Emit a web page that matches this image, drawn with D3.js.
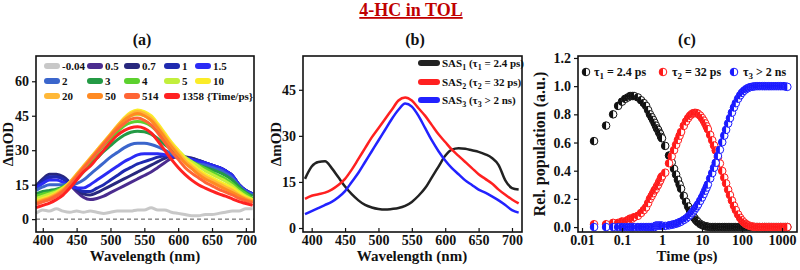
<!DOCTYPE html>
<html>
<head>
<meta charset="utf-8">
<script src="https://cdn.jsdelivr.net/npm/d3@7"></script>
<style>
  body { margin: 0; background: #fff; }
  text { font-family: "Liberation Serif", "Times New Roman", serif; font-weight: bold; fill: #111; }
</style>
</head>
<body>
<svg id="fig" width="800" height="270"></svg>
<script>
// wavelength grid (nm) shared by panels (a) and (b)
var wl = [390,400,410,420,430,440,450,460,470,480,490,500,510,520,530,540,550,560,570,580,590,600,610,620,630,640,650,660,670,680,690,700,710];

// (a) transient spectra, mOD, one array per delay
var delays = ["-0.04","0.5","0.7","1","1.5","2","3","4","5","10","20","50","514","1358"];
var tas_m004 = [2.5,4,3.5,4.5,3.5,3,3.5,3,3.5,3,2.5,3,3.5,3.5,3.5,4,4,5,4,4,3,2.5,2,1.5,1.5,2,2,2.5,3,3.5,3.5,4.5,4.5];
var tas_05   = [13,16,18,18.5,17.5,15,12,9.5,8.5,9,10,11.5,13,14.5,16,17.5,19,20.5,22.5,24.5,26.5,27,27,26.5,25.5,24.5,23.5,22.5,21,19,15,12.5,11];
var tas_07   = [14.5,17.5,19.5,19.5,18.5,16,13,11,10.5,11.5,13,14.5,16,17.5,19,20.5,22,23.5,25,26.5,27.5,27.5,27,26.5,25.5,24.5,23.5,22.5,21,19,15,12.5,11];
var tas_1    = [14,16.5,18.5,18.5,17.5,15.5,13.5,12,12,13.5,15,17,19,21,22.5,24,25,26,27,27.5,27.5,27,26.5,26,25.5,24.5,23.5,22.5,21,19,15,12.5,11];
var tas_15   = [13.5,15.5,17,17,16,14.5,13.5,13.5,15,17,19,21,23,25,26.5,28,28.5,28.5,28.5,28,27.5,27,26.5,26,25,24.5,23.5,22.5,21,19,15,12.5,11];
var tas_2    = [12.5,14,15,15,15,15,15.5,17,19.5,22,24.5,27,29,31,32.5,33,33,32.5,31.5,30,28.5,27,26,25,24,23.5,22.5,21.5,20,18,14.5,12,10.5];
var tas_3    = [11,12,12.5,13,14,15.5,17.5,20.5,23.5,26.5,29.5,32,34.5,36.5,37.8,38.3,38,37,35,32.5,30.5,28.5,26.5,25,23.5,22.5,21.5,20.5,19,17,14,11.5,10];
var tas_4    = [10,11,11.5,12.5,14,16,18.5,21.5,25,28.5,32,35,38,40.5,42,42.5,42,40.5,38,35,32,29.5,27,25,23.5,22,20.5,19,17.5,15.5,13,11,9];
var tas_5    = [9,10,11,12,13.5,16,19,22.5,26,29.5,33,36.5,40,43,45,45.5,45,43,40,36.5,33,30,27,25,23,21,19.5,18,16.5,14.5,12,10,8.5];
var tas_10   = [8,9,10,11.5,13.5,16,19.5,23,26.5,30,33.5,37,40.5,44,46.5,47.5,46.8,45,41.5,37.5,33.5,30,26.5,24,21.5,19.5,18,16.5,15,13.5,11.5,9.5,8.5];
var tas_20   = [7.5,8.5,9.5,11,13,16,19.5,23,26.5,30,33.5,37,40.5,43.5,45.8,46.8,46,44,40.5,36.5,32.5,29,25.5,23,20.5,18.5,17,15.5,14,12.5,10.5,9,8];
var tas_50   = [7,8,9,10.5,12.5,15.5,19,22.5,26,29.5,33,36.5,40,43,45,46,45,43,39.5,35.5,31.5,28,24.5,22,19.5,17.5,16,14.5,13,11.5,10,8.5,7.5];
var tas_514  = [6.5,7.5,8.5,10,12,15,18.5,22,25.5,29,32.5,36,39,41.5,43.5,44,43,41,37.5,33.5,29.5,26,22.5,20,18,16,14.5,13,11.8,10.5,9,8,7];
var tas_1358 = [5,6,7,8.5,10.5,13.5,17,20.5,23,26.5,30,33.5,36.5,38.5,39.8,40.2,39.5,37.5,34,30,26,22.5,19.5,17,15,13.5,12.2,11,10,8.8,7.6,6.8,6];
var tasColors = ["#c8c8c8","#4b2c8f","#28287e","#1f2ab0","#2b2bf5","#3b66cc","#249a45","#5cd12e","#c2ef3c","#fbec28","#ffb838","#ff8a22","#ff6535","#ff2222"];

// (b) species associated spectra, mOD
var sas1 = [16,20,21.5,21.7,19.5,16.5,13.5,11,9,7.5,6.7,6.2,6,6.2,6.5,7.2,8.5,10.5,13,16.5,20,23.5,25.5,26,25.8,25.3,24.8,24,22.8,20.5,15.5,13,12.5];
var sas2 = [9.5,10.5,11,11.5,12.5,14,16,19,22.5,26,29.5,32.5,35.5,38.5,41.5,42.5,41.5,39,36.5,33.5,30.5,28,25.5,23.5,21.5,19.5,17.5,16,14.5,12.5,10.8,9.3,8];
var sas3 = [4.5,5.5,6.5,7.5,8.5,10,12,15,18,21.5,25,28.5,32,35.5,38.5,40.5,39.5,36.5,32.5,28.5,25,22,19.5,17.5,15.5,14,12.5,11.5,10.3,9,7.5,5.8,5];

// (c) relative populations vs time (ps)
var times = [0.02,0.04,0.06,0.08,0.1,0.12,0.14,0.16,0.18,0.2,
  0.25,0.3,0.35,0.4,0.45,0.5,0.55,0.6,0.65,0.7,0.75,0.8,0.85,0.9,0.95,1.0,
  1.2,1.5,1.75,2,2.25,2.5,2.75,3,3.5,4,4.5,5,5.5,6,6.5,7,7.5,8,9,10,11,12,13,14,
  16,18,20,22,25,28,32,36,40,45,50,56,63,70,80,90,100,112,125,140,160,180,200,
  225,250,280,320,360,400,450,500,560,630,710,800,900,1000,1120,1250,1358];
var pop1 = [0.61,0.72,0.80,0.86,0.89,0.91,0.92,0.93,0.93,0.93,
  0.92,0.90,0.88,0.86,0.83,0.80,0.78,0.76,0.74,0.72,0.70,0.69,0.67,0.66,0.64,0.63,
  0.576,0.508,0.458,0.413,0.372,0.335,0.302,0.272,0.221,0.179,0.146,0.118,0.096,0.078,0.063,0.051,0.042,0.034,0.022,0.015,0.010,0.006,0.004,0.003,
  0,0,0,0,0,0,0,0,0,0,0,0,0,0,0,0,0,0,0,0,0,0,0,
  0,0,0,0,0,0,0,0,0,0,0,0,0,0,0,0,0];
var pop2 = [0.02,0.02,0.03,0.03,0.04,0.04,0.05,0.06,0.06,0.07,
  0.08,0.10,0.12,0.14,0.17,0.20,0.22,0.24,0.26,0.27,0.29,0.30,0.32,0.33,0.35,0.36,
  0.386,0.453,0.502,0.546,0.584,0.618,0.648,0.675,0.718,0.750,0.773,0.790,0.801,0.808,0.810,0.810,0.808,0.803,0.791,0.774,0.756,0.736,0.715,0.695,
  0.654,0.616,0.579,0.544,0.495,0.451,0.398,0.351,0.310,0.265,0.227,0.188,0.151,0.121,0.089,0.065,0.048,0.033,0.022,0.014,0.007,0.004,0.002,
  0,0,0,0,0,0,0,0,0,0,0,0,0,0,0,0,0];
var pop3 = [0,0,0,0,0,0,0,0,0,0,
  0,0,0,0,0,0,0,0,0,0.01,0.01,0.01,0.01,0.01,0.01,0.01,
  0.008,0.012,0.016,0.020,0.024,0.029,0.034,0.039,0.050,0.061,0.073,0.085,0.098,0.111,0.123,0.136,0.148,0.161,0.186,0.210,0.234,0.258,0.280,0.302,
  0.345,0.383,0.421,0.456,0.505,0.549,0.602,0.649,0.690,0.735,0.773,0.812,0.849,0.879,0.911,0.935,0.953,0.967,0.978,0.986,0.993,0.996,0.998,
  1,1,1,1,1,1,1,1,1,1,1,1,1,1,1,0.997,0.995];

var svg = d3.select("#fig");

// title + panel letters
svg.append("text").attr("x", 411).attr("y", 16).attr("text-anchor", "middle")
  .style("font-size", "18px").style("fill", "#c00000").style("text-decoration", "underline")
  .text("4-HC in TOL");
[["(a)", 142], ["(b)", 415], ["(c)", 687]].forEach(function(p) {
  svg.append("text").attr("x", p[1]).attr("y", 45).attr("text-anchor", "middle")
    .style("font-size", "16px").text(p[0]);
});

// common frame + axes helper
function frame(g, x, y, xTicks, yTicks, xFmt, yFmt) {
  var r = x.range(), b = y.range();
  var ax = g.append("g").attr("transform", "translate(0," + b[0] + ")")
    .call(d3.axisBottom(x).tickValues(xTicks).tickSize(-4).tickSizeOuter(0).tickPadding(3).tickFormat(xFmt));
  var ay = g.append("g").attr("transform", "translate(" + r[0] + ",0)")
    .call(d3.axisLeft(y).tickValues(yTicks).tickSize(4).tickSizeOuter(0).tickPadding(3).tickFormat(yFmt));
  [ax, ay].forEach(function(a) {
    a.select(".domain").remove();
    a.selectAll("line").style("stroke", "#111").style("stroke-width", 1.2);
    a.selectAll("text").style("font-size", "14px").style("font-family", null).style("fill", "#111");
  });
  g.append("rect").attr("x", r[0]).attr("y", b[1]).attr("width", r[1] - r[0]).attr("height", b[0] - b[1])
    .style("fill", "none").style("stroke", "#111").style("stroke-width", 1.6);
}

function ylabel(x, y, txt, fs) {
  svg.append("text").attr("transform", "translate(" + x + "," + y + ") rotate(-90)")
    .attr("text-anchor", "middle").style("font-size", fs + "px").text(txt);
}

function xlabel(x, y, txt) {
  svg.append("text").attr("x", x).attr("y", y).attr("text-anchor", "middle")
    .style("font-size", "15px").text(txt);
}

// ---------- panel (a) ----------
var xa = d3.scaleLinear().domain([390, 712]).range([36, 254]);
var ya = d3.scaleLinear().domain([-5.6, 71]).range([232, 56]);
var ga = svg.append("g");

ga.append("line").attr("x1", xa(390)).attr("x2", xa(712)).attr("y1", ya(0)).attr("y2", ya(0))
  .style("stroke", "#555").style("stroke-width", 1).style("stroke-dasharray", "4,3");

var tasAll = [tas_m004, tas_05, tas_07, tas_1, tas_15, tas_2, tas_3, tas_4, tas_5, tas_10, tas_20, tas_50, tas_514, tas_1358];
var lineA = d3.line().x(function(d, i) { return xa(wl[i]); }).y(function(d) { return ya(d); }).curve(d3.curveMonotoneX);

ga.selectAll("path.tas")
  .data(tasAll)
  .enter()
  .append("path")
    .attr("class", "tas")
    .attr("d", lineA)
    .style("fill", "none")
    .style("stroke", function(d, i) { return tasColors[i]; })
    .style("stroke-width", 3);

frame(ga, xa, ya, [400,450,500,550,600,650,700], [0,15,30,45,60], d3.format("d"), d3.format("d"));

// legend of delays, 5 per row
var colX = [44, 87, 124, 164, 195];
var rowY = [66, 81, 96];
var leg = ga.selectAll("g.lg").data(delays).enter().append("g").attr("class", "lg")
  .attr("transform", function(d, i) { return "translate(" + colX[i % 5] + "," + rowY[Math.floor(i / 5)] + ")"; });
leg.append("rect").attr("x", 0).attr("y", -3).attr("width", 16).attr("height", 6).attr("rx", 3)
  .style("fill", function(d, i) { return tasColors[i]; });
leg.append("text").attr("x", 18).attr("y", 4).style("font-size", "11px")
  .text(function(d) { return d == "1358" ? "1358 {Time/ps}" : d; });

ylabel(13, 144, "ΔmOD", 15);
xlabel(145, 261, "Wavelength (nm)");

// ---------- panel (b) ----------
var xb = d3.scaleLinear().domain([387, 715]).range([303, 522]);
var yb = d3.scaleLinear().domain([-1.3, 56]).range([232, 56]);
var gb = svg.append("g");
var sasColors = ["#222222", "#ff2020", "#2222ff"];
var lineB = d3.line().x(function(d, i) { return xb(wl[i]); }).y(function(d) { return yb(d); }).curve(d3.curveMonotoneX);

gb.selectAll("path.sas")
  .data([sas1, sas2, sas3])
  .enter()
  .append("path")
    .attr("d", lineB)
    .style("fill", "none")
    .style("stroke", function(d, i) { return sasColors[i]; })
    .style("stroke-width", 2.5);

frame(gb, xb, yb, [400,450,500,550,600,650,700], [0,15,30,45], d3.format("d"), d3.format("d"));

var sasLab = [["1", "1", "= 2.4 ps)"], ["2", "2", "= 32 ps)"], ["3", "3", "> 2 ns)"]];
var sasY = [63, 82, 100];
sasLab.forEach(function(s, i) {
  gb.append("line").attr("x1", 421).attr("x2", 437).attr("y1", sasY[i]).attr("y2", sasY[i])
    .style("stroke", sasColors[i]).style("stroke-width", 6).style("stroke-linecap", "round");
  var t = gb.append("text").attr("x", 442).attr("y", sasY[i] + 4).style("font-size", "11px");
  t.append("tspan").text("SAS");
  t.append("tspan").attr("dy", 3).style("font-size", "8px").text(s[0]);
  t.append("tspan").attr("dy", -3).text(" (τ");
  t.append("tspan").attr("dy", 3).style("font-size", "8px").text(s[1]);
  t.append("tspan").attr("dy", -3).text(" " + s[2]);
});

ylabel(281, 144, "ΔmOD", 15);
xlabel(412, 261, "Wavelength (nm)");

// ---------- panel (c) ----------
var xc = d3.scaleLog().domain([0.00794, 2371]).range([578, 797]);
var yc = d3.scaleLinear().domain([-0.035, 1.214]).range([232, 56]);
var gc = svg.append("g");
var popColors = ["#111111", "#ff1a1a", "#1a1aff"];
var rr = 3.8;

function halfDots(vals, col) {
  var pts = gc.append("g").selectAll("g").data(vals).enter().append("g")
    .attr("transform", function(d, i) { return "translate(" + xc(times[i]) + "," + yc(d) + ")"; });
  pts.append("circle").attr("r", rr).style("fill", "#fff").style("stroke", col).style("stroke-width", 1);
  pts.append("path").attr("d", "M0," + (-rr) + "A" + rr + "," + rr + " 0 0 0 0," + rr + "Z").style("fill", col);
}
halfDots(pop1, popColors[0]);
halfDots(pop2, popColors[1]);
halfDots(pop3, popColors[2]);

frame(gc, xc, yc, [0.01,0.1,1,10,100,1000], [0,0.2,0.4,0.6,0.8,1.0,1.2], function(d) { return String(d); }, d3.format(".1f"));

var popLab = [["1", " = 2.4 ps", 586, 594], ["2", " = 32 ps", 663, 672], ["3", " > 2 ns", 734, 743]];
popLab.forEach(function(p, i) {
  var g = gc.append("g").attr("transform", "translate(" + p[2] + ",72)");
  g.append("circle").attr("r", rr).style("fill", "#fff").style("stroke", popColors[i]);
  g.append("path").attr("d", "M0," + (-rr) + "A" + rr + "," + rr + " 0 0 0 0," + rr + "Z").style("fill", popColors[i]);
  var t = gc.append("text").attr("x", p[3]).attr("y", 76).style("font-size", "12px");
  t.append("tspan").text("τ");
  t.append("tspan").attr("dy", 3).style("font-size", "9px").text(p[0]);
  t.append("tspan").attr("dy", -3).text(p[1]);
});

ylabel(545, 144, "Rel. population (a.u.)", 16);
xlabel(687, 261, "Time (ps)");
</script>
</body>
</html>
